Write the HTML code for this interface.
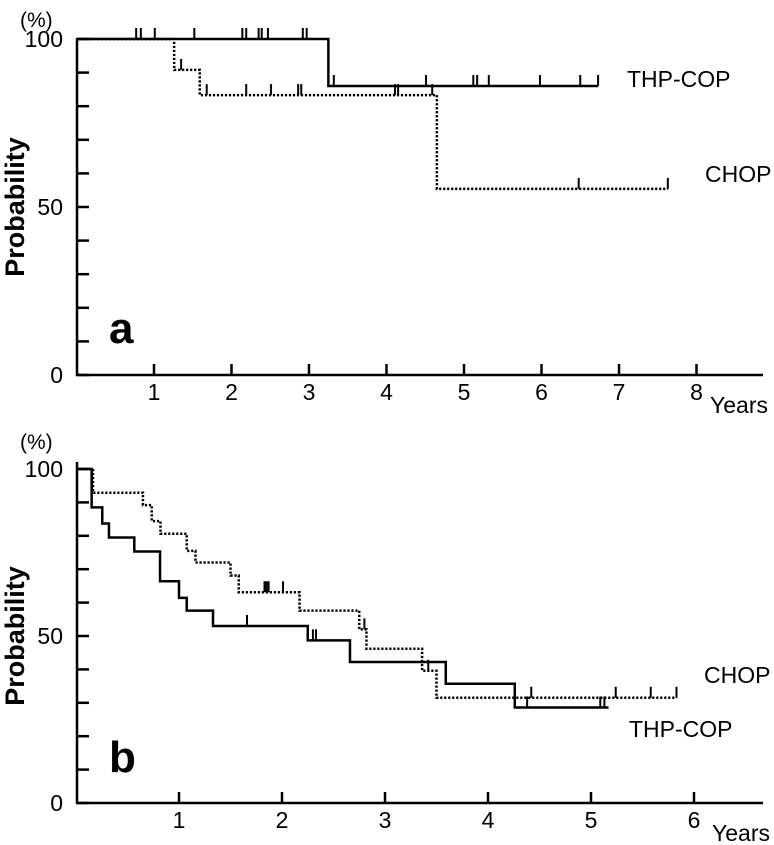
<!DOCTYPE html>
<html><head><meta charset="utf-8"><style>
body{margin:0;background:#fff;}
svg{display:block;font-family:"Liberation Sans",Arial,sans-serif;}
</style></head><body>
<svg id="c" width="774" height="845" viewBox="0 0 774 845" xmlns="http://www.w3.org/2000/svg"></svg>
<script>
// Panel a data (years, percent)
const aThpSteps = [[0,100],[3.25,86.0]];
const aThpEnd = 6.73;
const aThpCens = [[0.77,100],[0.83,100],[1.01,100],[1.52,100],[2.14,100],[2.19,100],[2.35,100],[2.39,100],[2.47,100],[2.92,100],[2.97,100],[3.32,86.0],[4.51,86.0],[5.12,86.0],[5.17,86.0],[5.32,86.0],[5.98,86.0],[6.50,86.0],[6.73,86.0]];
const aChopSteps = [[0,100],[1.26,90.8],[1.59,83.3],[4.65,55.4]];
const aChopEnd = 7.63;
const aChopCens = [[1.35,90.8],[1.68,83.3],[2.19,83.3],[2.51,83.3],[2.86,83.3],[2.90,83.3],[4.11,83.3],[4.15,83.3],[4.59,83.3],[6.48,55.4],[7.63,55.4]];
const aXTicks = [1,2,3,4,5,6,7,8];
// Panel b data
const bThpSteps = [[0,100],[0.152,88.5],[0.255,83.7],[0.32,79.5],[0.566,75.3],[0.816,66.4],[1.0,61.4],[1.075,57.6],[1.33,53],[2.25,48.7],[2.66,42.2],[3.59,35.7],[4.26,28.6]];
const bThpEnd = 5.17;
const bThpCens = [[1.66,53],[2.30,48.7],[2.33,48.7],[4.38,28.6],[5.09,28.6],[5.13,28.6]];
const bChopSteps = [[0,100],[0.165,92.9],[0.65,89.2],[0.735,84.4],[0.82,80.6],[1.075,75.5],[1.16,72],[1.50,68.1],[1.58,63.1],[2.17,57.6],[2.75,52],[2.82,46.2],[3.36,39.6],[3.50,31.5]];
const bChopEnd = 5.83;
const bChopCens = [[1.83,63.1],[1.85,63.1],[1.87,63.1],[2.01,63.1],[2.80,52],[3.42,39.6],[4.42,31.5],[5.24,31.5],[5.58,31.5],[5.83,31.5]];
const bXTicks = [1,2,3,4,5,6];
const yTicks = [0,10,20,30,40,50,60,70,80,90,100];
const yLabels = [0,50,100];

const NS="http://www.w3.org/2000/svg";
const svg=document.getElementById('c');
function mk(tag,attrs,parent){const e=document.createElementNS(NS,tag);for(const k in attrs)e.setAttribute(k,attrs[k]);(parent||svg).appendChild(e);return e;}

function panel(P){
  const g=mk('g',{});
  
  
  const X=t=>P.x0+P.sx*t, Y=p=>P.y0-P.sy*p;
  const ax=mk('path',{d:`M${P.axX},${P.axTop} V${P.y0} H${P.axEnd}`,stroke:'#000','stroke-width':2.5,fill:'none'},g);
  
  
  yTicks.forEach(v=>{const l=mk('line',{x1:P.axX,x2:P.axX+12,y1:Y(v),y2:Y(v),stroke:'#000','stroke-width':2.5},g);
    
    });
  yLabels.forEach(v=>{const t=mk('text',{x:63,y:Y(v)+8,'text-anchor':'end','font-size':23},g);t.textContent=v;
    
    });
  P.xt.forEach(v=>{const l=mk('line',{x1:X(v),x2:X(v),y1:P.y0,y2:P.y0-11,stroke:'#000','stroke-width':2.5},g);
    
    
    const t=mk('text',{x:X(v),y:P.y0+25,'text-anchor':'middle','font-size':23},g);t.textContent=v;
    
    });
  const yr=mk('text',{x:P.yearsX,y:P.yearsY,'font-size':23},g);yr.textContent='Years';
  
  
  const pc=mk('text',{x:20,y:P.pctY,'font-size':21},g);pc.textContent='(%)';
  
  
  const yt=mk('text',{x:0,y:0,'font-size':27,'font-weight':'bold','text-anchor':'middle',transform:`translate(24,${Y(50)}) rotate(-90)`},g);yt.textContent='Probability';
  
  
  const pl=mk('text',{x:109,y:P.letterY,'font-size':44,'font-weight':'bold'},g);pl.textContent=P.letter;
  
  
  function curve(steps,end,cens,dash,nm){
    let d='';
    steps.forEach((s,i)=>{const xs=Math.max(X(s[0]),P.axX);
      if(i===0)d+=`M${xs},${Y(s[1])}`;else d+=` H${xs} V${Y(s[1])}`;});
    d+=` H${X(end)}`;
    const p=mk('path',{d,stroke:'#000','stroke-width':2.5,fill:'none','stroke-dasharray':dash?'2.2,1.8':'none'},g);
    
    
    cens.forEach(c=>{const l=mk('line',{x1:X(c[0]),x2:X(c[0]),y1:Y(c[1]),y2:Y(c[1])-11,stroke:'#000','stroke-width':2},g);
      
      });
  }
  curve(P.thp,P.thpEnd,P.thpC,false,'thp-cop');
  curve(P.chop,P.chopEnd,P.chopC,true,'chop');
  P.labels.forEach(L=>{const t=mk('text',{x:L[1],y:L[2],'font-size':23},g);t.textContent=L[0];
    
    });
}
panel({name:'panel-a',x0:76.5,sx:77.5,y0:375,sy:3.36,axX:77,axTop:38,axEnd:763,xt:aXTicks,yearsX:710,yearsY:413,pctY:27,letter:'a',letterY:343,
  thp:aThpSteps,thpEnd:aThpEnd,thpC:aThpCens,chop:aChopSteps,chopEnd:aChopEnd,chopC:aChopCens,
  labels:[['THP-COP',627,87],['CHOP',705,182]]});
panel({name:'panel-b',x0:76,sx:103,y0:803,sy:3.34,axX:77,axTop:462,axEnd:763,xt:bXTicks,yearsX:712,yearsY:841,pctY:449,letter:'b',letterY:772,
  thp:bThpSteps,thpEnd:bThpEnd,thpC:bThpCens,chop:bChopSteps,chopEnd:bChopEnd,chopC:bChopCens,
  labels:[['CHOP',704,683],['THP-COP',629,737]]});
</script>
</body></html>
